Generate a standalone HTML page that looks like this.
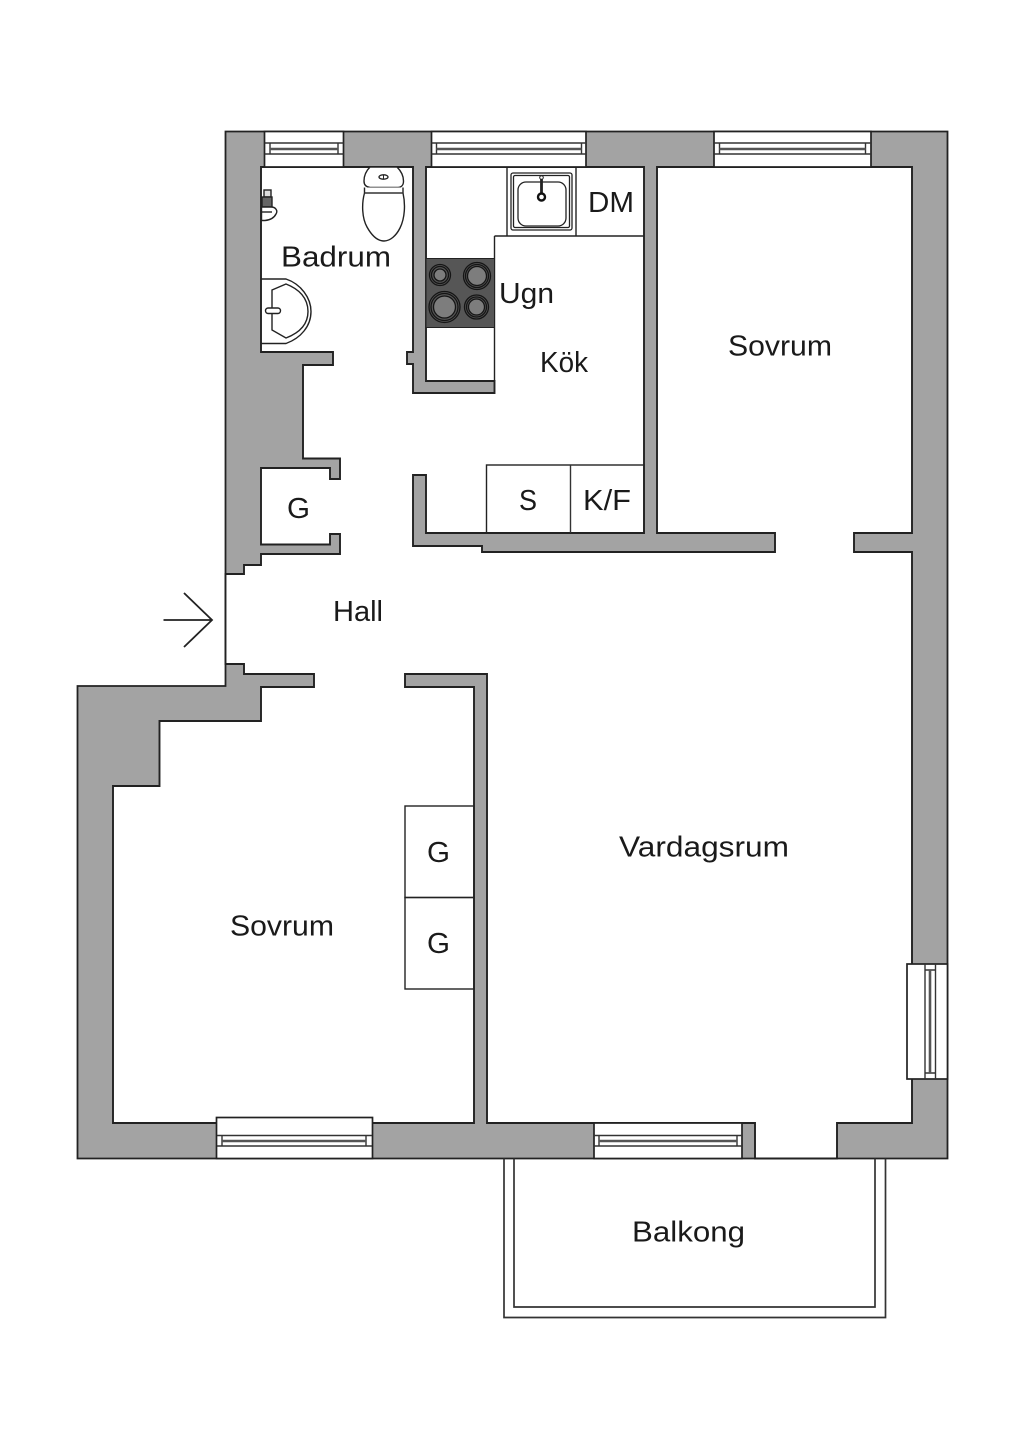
<!DOCTYPE html>
<html lang="sv">
<head>
<meta charset="utf-8">
<title>Planritning</title>
<style>
html,body{margin:0;padding:0;background:#fff}
svg{display:block}
text{font-family:"Liberation Sans",sans-serif;font-size:29px;fill:#1a1a1a}
.t{fill:none;stroke:#222;stroke-width:1.4}
.w{fill:#fff;stroke:#222;stroke-width:1.7}
.l{fill:none;stroke:#333;stroke-width:1.4}
</style>
</head>
<body>
<svg width="1024" height="1448" viewBox="0 0 1024 1448" xmlns="http://www.w3.org/2000/svg">
<rect width="1024" height="1448" fill="#fff"/>

<!-- outer walls -->
<polygon points="225.5,131.5 947.5,131.5 947.5,1158.5 77.5,1158.5 77.5,686 225.5,686" fill="#a3a3a3" stroke="#222" stroke-width="1.8"/>

<!-- interior -->
<polygon fill="#fff" stroke="#222" stroke-width="1.9" stroke-linejoin="miter" points="261,167 413,167 413,352 407,352 407,364 413,364 413,393 494.5,393 494.5,381 426,381 426,167 644,167 644,533 426,533 426,475 413,475 413,546 482,546 482,552 775,552 775,533 657,533 657,167 912,167 912,533 854,533 854,552 912,552 912,1123 837,1123 837,1158.5 755,1158.5 755,1123 487,1123 487,674 405,674 405,687 474,687 474,1123 113,1123 113,786 159.5,786 159.5,721 261,721 261,687 314,687 314,674 244,674 244,664 225.5,664 225.5,574 244,574 244,565 261,565 261,554 340,554 340,534 330,534 330,544.500 261,544.500 261,468 330,468 330,479 340,479 340,458.500 303,458.500 303,365 333,365 333,352 261,352"/>

<!-- windows -->
<g>
<rect class="w" x="264.500" y="131.500" width="79" height="35.500"/>
<path class="l" d="M264.500 143H343.500M264.500 154H343.500M270 143V154M338 143V154"/>
<path d="M270 149H338" stroke="#555" stroke-width="2.600"/>

<rect class="w" x="431.500" y="131.500" width="154.500" height="35.500"/>
<path class="l" d="M431.500 143H586M431.500 154H586M436.500 143V154M581.500 143V154"/>
<path d="M436.500 149H581.500" stroke="#555" stroke-width="2.600"/>

<rect class="w" x="714" y="131.500" width="157" height="35.500"/>
<path class="l" d="M714 143H871M714 154H871M719.500 143V154M865.500 143V154"/>
<path d="M719.500 149H865.500" stroke="#555" stroke-width="2.600"/>

<rect class="w" x="216.500" y="1117.500" width="156" height="41"/>
<path class="l" d="M217 1135.500H372M217 1146H372M222 1135.500V1146M366 1135.500V1146"/>
<path d="M222 1141H366" stroke="#555" stroke-width="2.600"/>

<rect class="w" x="594" y="1123" width="148" height="35.500"/>
<path class="l" d="M594 1135.500H742M594 1146H742M599 1135.500V1146M737 1135.500V1146"/>
<path d="M599 1141H737" stroke="#555" stroke-width="2.600"/>

<rect class="w" x="907" y="964" width="40.500" height="115"/>
<path class="l" d="M925 964V1079M935.500 964V1079M925 970H935.500M925 1073H935.500"/>
<path d="M930 970V1073" stroke="#555" stroke-width="2.600"/>
</g>

<!-- balcony -->
<path d="M504 1158.500V1317.500H885.500V1158.500M514 1158.500V1307H875V1158.500" fill="none" stroke="#333" stroke-width="1.700"/>

<!-- kitchen counters -->
<path class="t" d="M494.500 236V381M494.500 236H644M507 167V236M576 167V236"/>
<rect x="426" y="258.500" width="68.500" height="69" fill="#565656" stroke="#222" stroke-width="1"/>
<g fill="none" stroke="#151515" stroke-width="1.300">
<circle cx="440" cy="275" r="10.500"/>
<circle cx="440" cy="275" r="8.500"/>
<circle cx="477" cy="276" r="13.500"/>
<circle cx="477" cy="276" r="11.500"/>
<circle cx="444.500" cy="307" r="15.500"/>
<circle cx="444.500" cy="307" r="13.500"/>
<circle cx="476.500" cy="307" r="12"/>
<circle cx="476.500" cy="307" r="10"/>
</g>
<g fill="#7d7d7d" stroke="#151515" stroke-width="1.300">
<circle cx="440" cy="275" r="6"/>
<circle cx="477" cy="276" r="9.500"/>
<circle cx="444.500" cy="307" r="11"/>
<circle cx="476.500" cy="307" r="8"/>
</g>

<!-- kitchen sink -->
<rect x="511" y="173" width="61" height="57" rx="2" fill="#fff" stroke="#222" stroke-width="1.300"/>
<rect x="513.500" y="175.500" width="56" height="52" rx="1.500" fill="#fff" stroke="#222" stroke-width="1.300"/>
<rect x="518" y="182" width="48" height="44" rx="8" fill="#fff" stroke="#222" stroke-width="1.300"/>
<path d="M541.500 178V196" stroke="#222" stroke-width="2.800"/>
<circle cx="541.500" cy="177.500" r="1.800" fill="#fff" stroke="#222" stroke-width="1"/>
<circle cx="541.500" cy="197" r="3.500" fill="#fff" stroke="#111" stroke-width="2.400"/>

<!-- appliances / closets -->
<rect class="t" x="486.500" y="465" width="157.500" height="68"/>
<path d="M570.500 465V533" stroke="#333" stroke-width="1.400"/>
<rect class="t" x="405" y="806" width="69" height="91.500"/>
<rect class="t" x="405" y="897.500" width="69" height="91.500"/>

<!-- toilet -->
<path d="M370 167C366 171 364 176 364 181C364 185 366 187 370 187.500H398C402 187 403.500 185 403.500 181C403.500 176 401 171 397 167Z" fill="#fff" stroke="#222" stroke-width="1.400"/>
<path d="M364.500 187.500V193C361.500 204 362 218 367 227C372 236 378 241 384 241C390 241 396 236 400 228C405 218 405.500 204 403 193V187.500" fill="#fff" stroke="#222" stroke-width="1.400"/>
<path class="l" d="M364.500 193H403"/>
<ellipse cx="383.500" cy="177" rx="4.500" ry="2.200" fill="#fff" stroke="#222" stroke-width="1.300"/>
<path d="M383.500 175V179" stroke="#222" stroke-width="1"/>

<!-- radiator valve -->
<g fill="#fff" stroke="#222" stroke-width="1.400">
<rect x="264" y="190" width="7" height="7" fill="#ddd"/>
<rect x="262" y="197" width="10" height="10" fill="#666"/>
<path d="M261.500 207H271C276 207 278 211 276 214C274 218 270 220 265 220.500H261.500Z"/>
<path d="M261.500 212H272"/>
</g>

<!-- bathroom sink -->
<path d="M261 279H286C301 284 311 298 311 311.500C311 326 301 338 286 343.500H261" class="t"/>
<path d="M272 290L286 284C299 289 308 298 308 311.500C308 325 299 333 286 338L272 330Z" class="t"/>
<rect x="265.500" y="308" width="15" height="5.500" rx="2.700" fill="#fff" stroke="#222" stroke-width="1.400"/>

<!-- entry arrow -->
<path d="M163.500 620H212M184 593L212 620L184 647" fill="none" stroke="#222" stroke-width="1.800"/>

<!-- labels -->
<text x="281" y="266.500" textLength="110" lengthAdjust="spacingAndGlyphs">Badrum</text>
<text x="588" y="212" textLength="46" lengthAdjust="spacingAndGlyphs">DM</text>
<text x="499" y="303" textLength="55" lengthAdjust="spacingAndGlyphs">Ugn</text>
<text x="540" y="372" textLength="48" lengthAdjust="spacingAndGlyphs">Kök</text>
<text x="728" y="355.500" textLength="104" lengthAdjust="spacingAndGlyphs">Sovrum</text>
<text x="287" y="518" textLength="23" lengthAdjust="spacingAndGlyphs">G</text>
<text x="333" y="621" textLength="50" lengthAdjust="spacingAndGlyphs">Hall</text>
<text x="519" y="510" textLength="18" lengthAdjust="spacingAndGlyphs">S</text>
<text x="583" y="510" textLength="48" lengthAdjust="spacingAndGlyphs">K/F</text>
<text x="619" y="856.500" textLength="170" lengthAdjust="spacingAndGlyphs">Vardagsrum</text>
<text x="230" y="935.500" textLength="104" lengthAdjust="spacingAndGlyphs">Sovrum</text>
<text x="427" y="862" textLength="23" lengthAdjust="spacingAndGlyphs">G</text>
<text x="427" y="953" textLength="23" lengthAdjust="spacingAndGlyphs">G</text>
<text x="632" y="1241.500" textLength="113" lengthAdjust="spacingAndGlyphs">Balkong</text>
</svg>
</body>
</html>
